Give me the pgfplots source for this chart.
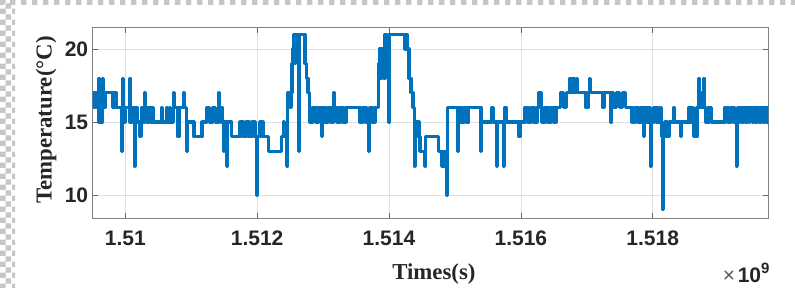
\documentclass[border=0pt]{standalone}
\usepackage{fontspec}
\setmainfont{Liberation Serif}
\newfontfamily\arialf{Liberation Sans}
\usepackage{pgfplots}
\pgfplotsset{compat=1.18}
\usetikzlibrary{patterns}
\definecolor{mblue}{RGB}{0,114,189}
\newcommand\tickfont{\arialf\bfseries\fontsize{21bp}{21bp}\selectfont}
\newcommand\labelfont{\bfseries\fontsize{22.8bp}{23bp}\selectfont}
\begin{document}
\begin{tikzpicture}
\path[use as bounding box] (0,0) rectangle (795bp,288bp);
\fill[white] (0,0) rectangle (795bp,288bp);
\fill[pattern=checkerboard, pattern color=gray!45] (0,0) rectangle (15bp,288bp);
\fill[pattern=checkerboard, pattern color=gray!45] (0,283bp) rectangle (795bp,288bp);
\begin{axis}[
  at={(92.7bp,69.7bp)}, anchor=south west,
  scale only axis, width=675.6bp, height=191bp,
  clip mode=individual,
  xmin=1.509506, xmax=1.519753, ymin=8.42, ymax=21.48,
  xtick={1.51,1.512,1.514,1.516,1.518},
  xticklabels={1.51,1.512,1.514,1.516,1.518},
  ytick={10,15,20}, yticklabels={10,15,20},
  scaled x ticks=false,
  grid=major, major grid style={draw=black!12, line width=0.7bp},
  axis line style={draw=black!50, line width=0.7bp},
  every tick/.style={draw=black!60, line width=0.7bp},
  tick align=inside, major tick length=5.5bp,
  ticklabel style={font=\tickfont, text=black!85},
  xticklabel style={yshift=-9bp},
  yticklabel style={xshift=-1bp},
  xlabel={Times(s)}, ylabel={Temperature(°C)},
  label style={font=\labelfont, text=black!85},
  xlabel style={at={(axis description cs:0.505,-0.323)}, anchor=base},
  ylabel style={at={(axis description cs:-0.0607,0.515)}, anchor=base},
]
\addplot[const plot, mblue, line width=3.2bp, line join=round] table {
x y
1.509506 17
1.509518 16
1.509533 17
1.509548 16
1.509563 17
1.509578 16
1.509590 18
1.509601 15
1.509616 16
1.509631 15
1.509657 18
1.509666 17
1.509677 16
1.509692 17
1.509809 16
1.509829 17
1.509859 16
1.509946 13
1.509956 18
1.509970 15
1.509995 16
1.510061 18
1.510071 15
1.510102 16
1.510137 12
1.510147 16
1.510177 15
1.510212 14
1.510249 15
1.510253 16
1.510269 15
1.510288 17
1.510303 16
1.510329 15
1.510359 16
1.510390 15
1.510405 16
1.510425 15
1.510552 16
1.510561 15
1.510628 16
1.510637 15
1.510678 16
1.510689 15
1.510729 17
1.510744 16
1.510799 14
1.510815 16
1.510880 17
1.510891 16
1.510931 13
1.510940 15
1.511042 14
1.511163 15
1.511235 16
1.511281 15
1.511327 16
1.511372 15
1.511421 17
1.511432 16
1.511467 15
1.511487 13
1.511497 15
1.511538 12
1.511547 15
1.511614 14
1.511740 15
1.511785 14
1.511831 15
1.511876 14
1.511922 15
1.511967 14
1.511993 10
1.512002 14
1.512043 15
1.512089 14
1.512169 13
1.512372 14
1.512397 15
1.512407 14
1.512448 12
1.512463 17
1.512498 16
1.512518 17
1.512529 19
1.512544 20
1.512554 21
1.512563 19
1.512574 21
1.512589 20
1.512604 21
1.512635 13
1.512645 21
1.512726 19
1.512751 18
1.512771 17
1.512791 16
1.512802 15
1.512848 16
1.512893 15
1.512939 16
1.512979 14
1.512995 16
1.513030 15
1.513075 16
1.513121 15
1.513155 17
1.513166 16
1.513212 15
1.513257 16
1.513303 15
1.513348 16
1.513560 15
1.513605 16
1.513651 15
1.513689 13
1.513700 16
1.513742 15
1.513788 16
1.513838 19
1.513853 20
1.513863 18
1.513879 20
1.513894 19
1.513909 20
1.513924 18
1.513939 21
1.513954 19
1.513970 20
1.513989 21
1.514000 15
1.514010 21
1.514243 20
1.514258 21
1.514273 20
1.514303 18
1.514334 17
1.514364 16
1.514384 12
1.514394 15
1.514425 14
1.514440 15
1.514455 14
1.514470 13
1.514546 12
1.514556 14
1.514748 13
1.514799 12
1.514819 13
1.514834 12
1.514849 13
1.514869 10
1.514884 16
1.515042 13
1.515051 16
1.515092 15
1.515137 16
1.515183 15
1.515210 16
1.515395 13
1.515406 15
1.515558 16
1.515582 15
1.515633 12
1.515643 15
1.515734 12
1.515744 15
1.515759 16
1.515775 15
1.515972 14
1.515987 15
1.516063 16
1.516108 15
1.516154 16
1.516199 15
1.516245 16
1.516264 17
1.516280 16
1.516295 17
1.516310 16
1.516321 15
1.516366 16
1.516412 15
1.516457 16
1.516503 15
1.516533 16
1.516601 17
1.516647 16
1.516692 17
1.516745 18
1.516760 17
1.516791 18
1.516806 17
1.516847 18
1.516862 17
1.516988 16
1.517018 17
1.517044 18
1.517059 17
1.517246 16
1.517271 17
1.517367 15
1.517377 17
1.517405 16
1.517450 17
1.517496 16
1.517541 17
1.517587 16
1.517686 15
1.517731 16
1.517777 15
1.517822 16
1.517857 14
1.517872 16
1.517913 15
1.517944 16
1.517963 12
1.517974 15
1.518019 16
1.518065 15
1.518110 16
1.518133 14
1.518156 9
1.518167 14
1.518186 15
1.518217 14
1.518251 15
1.518312 16
1.518323 15
1.518418 14
1.518440 15
1.518550 16
1.518565 15
1.518581 16
1.518616 14
1.518641 15
1.518657 14
1.518672 16
1.518691 18
1.518702 16
1.518717 17
1.518732 16
1.518767 18
1.518778 16
1.518808 15
1.518853 16
1.518892 15
1.519096 16
1.519142 15
1.519187 16
1.519233 15
1.519274 12
1.519283 16
1.519301 15
1.519316 16
1.519354 15
1.519369 16
1.519407 15
1.519422 16
1.519460 15
1.519476 16
1.519513 15
1.519528 16
1.519566 15
1.519582 16
1.519619 15
1.519635 16
1.519673 15
1.519688 16
1.519726 15
1.519741 16
1.519753 16
};
\node[anchor=base east, inner sep=0pt, text=black!85] at (axis description cs:1.002,-0.338)
  {{\arialf\fontsize{21bp}{21bp}\selectfont\color{black!65}×}\hspace{2.5bp}{\arialf\bfseries\fontsize{21bp}{21bp}\selectfont 10\raisebox{9bp}{\fontsize{15bp}{15bp}\selectfont 9}}};
\end{axis}
\end{tikzpicture}
\end{document}
